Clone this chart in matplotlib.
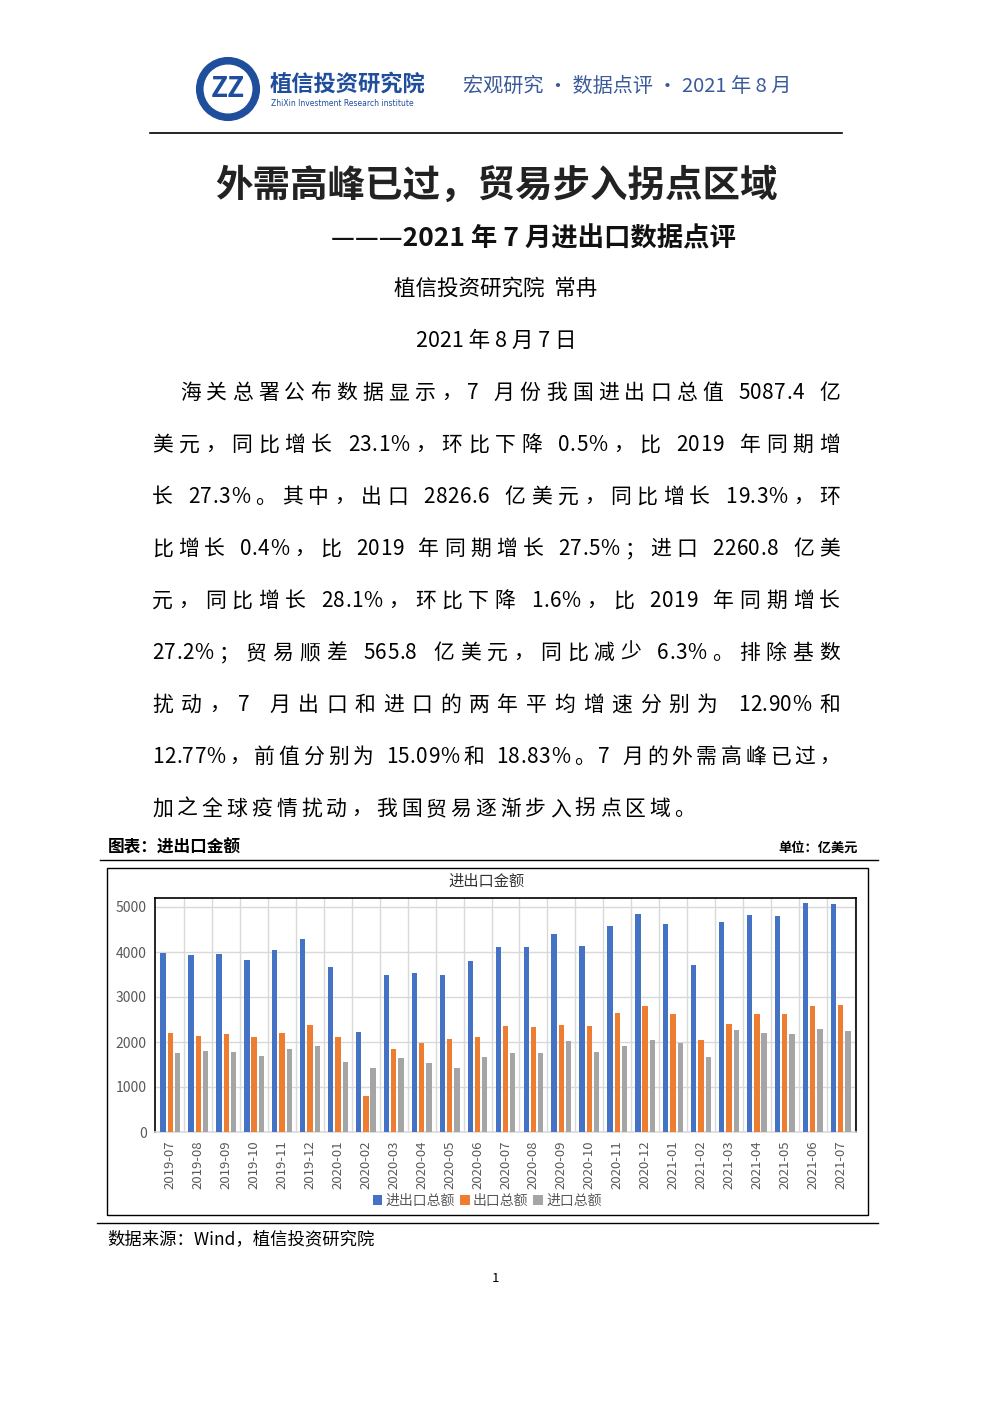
import matplotlib
matplotlib.use("Agg")
import matplotlib.pyplot as plt
import numpy as np
from matplotlib.patches import Circle, Rectangle

plt.rcParams['font.family'] = ['Noto Sans CJK SC', 'DejaVu Sans']

months = ["2019-07","2019-08","2019-09","2019-10","2019-11","2019-12","2020-01","2020-02","2020-03",
          "2020-04","2020-05","2020-06","2020-07","2020-08","2020-09","2020-10","2020-11","2020-12",
          "2021-01","2021-02","2021-03","2021-04","2021-05","2021-06","2021-07"]
total = [3978,3933,3956,3822,4044,4289,3667,2222,3489,3533,3489,3800,4111,4111,4400,4133,4578,4844,
         4622,3711,4667,4822,4800,5089,5067]
export = [2200,2133,2178,2111,2200,2378,2111,800,1844,1985,2067,2111,2356,2333,2378,2356,2644,2800,
          2622,2044,2400,2622,2622,2800,2822]
imports = [1756,1800,1778,1689,1844,1911,1556,1422,1644,1533,1422,1667,1756,1756,2022,1778,1911,2044,
           1978,1667,2267,2200,2178,2289,2244]
series_names = ["进出口总额", "出口总额", "进口总额"]
yticks = [0, 1000, 2000, 3000, 4000, 5000]

W, H = 992, 1403
fig = plt.figure(figsize=(W/100, H/100), dpi=100)

def fy(y): return 1 - y/H
def fx(x): return x/W

def txt(x, y, s, **kw):
    kw.setdefault('va', 'center')
    return fig.text(fx(x), fy(y), s, **kw)

def hline(x0, x1, y, lw=1.0, c='black'):
    fig.add_artist(plt.Line2D([fx(x0), fx(x1)], [fy(y), fy(y)], lw=lw, color=c, transform=fig.transFigure))

# header logo
blue = '#1f4e9c'
ax_logo = fig.add_axes([fx(194), fy(122), fx(68), 66/H])
ax_logo.set_xlim(-1, 1); ax_logo.set_ylim(-1, 1); ax_logo.set_aspect('equal'); ax_logo.axis('off')
ax_logo.add_patch(Circle((0, 0), 0.95, color=blue))
ax_logo.add_patch(Circle((0, 0), 0.72, color='white'))
ax_logo.text(0, 0, "ZZ", color=blue, fontsize=20, fontweight='bold', ha='center', va='center', style='italic')
txt(270, 84, "植信投资研究院", fontsize=16, fontweight='bold', color=blue)
txt(271, 104, "ZhiXin Investment Research institute", fontsize=5.5, color=blue, family='DejaVu Sans')
txt(463, 86, "宏观研究 • 数据点评 • 2021 年 8 月", fontsize=14.5, color='#3a5a9a')
hline(150, 842, 133, lw=1.2)

# titles
txt(496, 185, "外需高峰已过，贸易步入拐点区域", fontsize=27, fontweight='bold', ha='center', color='#222222')
txt(533, 239, "———2021 年 7 月进出口数据点评", fontsize=19, fontweight='bold', ha='center', color='#111111')
txt(496, 289, "植信投资研究院  常冉", fontsize=15.5, ha='center')
txt(496, 341, "2021 年 8 月 7 日", fontsize=15.5, ha='center')

lines = [
    "海关总署公布数据显示，7 月份我国进出口总值 5087.4 亿",
    "美元，同比增长 23.1%，环比下降 0.5%，比 2019 年同期增",
    "长 27.3%。其中，出口 2826.6 亿美元，同比增长 19.3%，环",
    "比增长 0.4%，比 2019 年同期增长 27.5%；进口 2260.8 亿美",
    "元，同比增长 28.1%，环比下降 1.6%，比 2019 年同期增长",
    "27.2%；贸易顺差 565.8 亿美元，同比减少 6.3%。排除基数",
    "扰动，7 月出口和进口的两年平均增速分别为 12.90%和",
    "12.77%，前值分别为 15.09%和 18.83%。7 月的外需高峰已过，",
    "加之全球疫情扰动，我国贸易逐渐步入拐点区域。",
]
fig.canvas.draw()
renderer = fig.canvas.get_renderer()
fs = 15

def is_ascii_word(ch):
    return ch.isascii() and ch not in ' '

for i, s in enumerate(lines):
    y = 393 + 52*i
    x0 = 180 if i == 0 else 152
    x1 = 840
    arts = [txt(0, y, ch, fontsize=fs) for ch in s]
    widths = [a.get_window_extent(renderer).width for a in arts]
    # gaps where spacing may be added: not between two ascii non-space chars
    flex = [0 if (is_ascii_word(s[j]) and is_ascii_word(s[j+1])) else 1 for j in range(len(s)-1)]
    if i == len(lines) - 1:
        gap = 4.0
    else:
        gap = (x1 - x0 - sum(widths) - 0.5*(len(s)-1-sum(flex))) / max(sum(flex), 1)
    x = x0
    for j, (a, w) in enumerate(zip(arts, widths)):
        a.set_x(fx(x))
        if j < len(flex):
            x += w + (gap if flex[j] else 0.5)

# chart header
txt(108, 847, "图表：进出口金额", fontsize=12, fontweight='bold')
txt(858, 848, "单位：亿美元", fontsize=9.5, fontweight='bold', ha='right')
hline(100, 878, 860, lw=1.0)
fig.add_artist(Rectangle((fx(107), fy(1215)), fx(761), (1215-868)/H, fill=False, lw=1.0,
                         ec='black', transform=fig.transFigure))
txt(487, 881, "进出口金额", fontsize=11, ha='center', color='#333333')

ax = fig.add_axes([fx(155), fy(1132), fx(701), (1132-898)/H])
x = np.arange(len(months))
colors = ['#4472c4', '#ed7d31', '#a5a5a5']
bw = 0.19
for k, (vals, c) in enumerate(zip([total, export, imports], colors)):
    ax.bar(x + (k-1)*0.26, vals, width=bw, color=c, label=series_names[k], zorder=3)
ax.set_xlim(-0.55, len(months)-0.45)
ax.set_ylim(0, 5200)
ax.set_yticks(yticks)
ax.set_yticklabels([str(v) for v in yticks], color='#595959', fontsize=10)
ax.set_xticks(x)
ax.set_xticklabels(months, rotation=90, color='#595959', fontsize=9.5)
ax.set_xticks(x + 0.5, minor=True)
ax.grid(True, which='major', axis='y', color='#d9d9d9', lw=1, zorder=0)
ax.grid(True, which='minor', axis='x', color='#d9d9d9', lw=1, zorder=0)
ax.tick_params(axis='both', which='both', length=0, pad=6)
for sp in ax.spines.values():
    sp.set_color('black'); sp.set_linewidth(1.2)
ax.spines['bottom'].set_color('#d9d9d9')
ax.legend(loc='center', bbox_to_anchor=(fx(487), fy(1201)), bbox_transform=fig.transFigure,
          ncol=3, frameon=False, fontsize=10, handlelength=0.7, handleheight=0.7,
          columnspacing=0.4, handletextpad=0.2, labelcolor='#595959')

hline(97, 878, 1223, lw=1.0)
txt(107, 1239, "数据来源：Wind，植信投资研究院", fontsize=12.5)
txt(495, 1278, "1", fontsize=9.5, ha='center')

fig.savefig("out.png", dpi=100)
